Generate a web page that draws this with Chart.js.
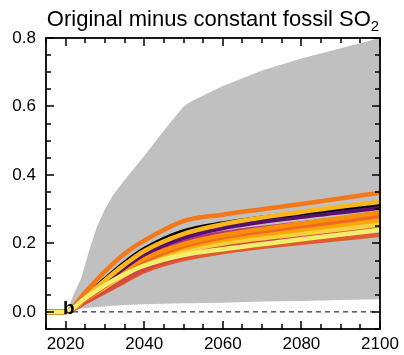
<!DOCTYPE html>
<html>
<head>
<meta charset="utf-8">
<script src="https://cdn.jsdelivr.net/npm/chart.js@4.4.0/dist/chart.umd.min.js"></script>
<style>
  html, body { margin: 0; padding: 0; background: #fff; }
  #wrap { width: 404px; height: 355px; }
</style>
</head>
<body>
<div id="wrap"><canvas id="so2Chart"></canvas></div>
<script>
// x / y tick labels
const xTicks = [2020, 2040, 2060, 2080, 2100];
const yTicks = [0.0, 0.2, 0.4, 0.6, 0.8];

// grey range (min / max across ensemble)
const bandYears = [2020, 2021, 2022, 2024, 2026, 2028, 2030, 2032, 2035, 2040, 2045, 2050, 2052, 2060, 2070, 2080, 2090, 2100];
const bandUpper = [0.0, 0.02, 0.05, 0.10, 0.18, 0.25, 0.30, 0.34, 0.385, 0.455, 0.53, 0.60, 0.615, 0.66, 0.705, 0.74, 0.77, 0.80];
const bandLower = [0.0, 0.004, 0.007, 0.010, 0.012, 0.014, 0.016, 0.018, 0.020, 0.022, 0.024, 0.025, 0.025, 0.027, 0.030, 0.032, 0.035, 0.037];

// individual model lines
const years = [2015, 2020, 2025, 2030, 2035, 2040, 2050, 2060, 2080, 2100];
const lineLightYellow = [0, 0, 0.040, 0.078, 0.110, 0.135, 0.166, 0.183, 0.212, 0.240];
const lineOrangeTop   = [0, 0, 0.058, 0.118, 0.170, 0.208, 0.265, 0.284, 0.315, 0.348];
const lineYellowOr    = [0, 0, 0.045, 0.092, 0.138, 0.178, 0.228, 0.256, 0.292, 0.322];
const lineBlack       = [0, 0, 0.045, 0.095, 0.143, 0.183, 0.235, 0.258, 0.289, 0.316];
const linePurple      = [0, 0, 0.042, 0.087, 0.130, 0.168, 0.217, 0.245, 0.278, 0.304];
const lineMagenta     = [0, 0, 0.038, 0.080, 0.122, 0.158, 0.206, 0.230, 0.258, 0.284];
const lineOrange      = [0, 0, 0.040, 0.082, 0.122, 0.156, 0.198, 0.224, 0.258, 0.290];
const lineRedOrange   = [0, 0, 0.035, 0.075, 0.113, 0.148, 0.192, 0.218, 0.250, 0.280];
const lineAmber       = [0, 0, 0.037, 0.076, 0.113, 0.146, 0.186, 0.210, 0.240, 0.268];
const lineYellow      = [0, 0, 0.035, 0.072, 0.108, 0.140, 0.178, 0.200, 0.228, 0.255];
const lineCrimson     = [0, 0, 0.030, 0.062, 0.094, 0.124, 0.162, 0.188, 0.220, 0.250];
const lineBottom      = [0, 0, 0.028, 0.058, 0.089, 0.119, 0.154, 0.175, 0.202, 0.225];

const zeroYears = [2015, 2100];
const zeroVals = [0, 0];

const FONT = '"Liberation Sans", Arial, Helvetica, sans-serif';

function pts(xs, ys) {
    return xs.map((x, i) => ({ x: x, y: ys[i] }));
}

function modelLine(vals, color, order) {
    return {
        data: pts(years, vals),
        borderColor: color,
        borderWidth: 4.5,
        pointRadius: 0,
        fill: false,
        cubicInterpolationMode: 'monotone',
        borderCapStyle: 'butt',
        order: order
    };
}

// frame, inward ticks, title and panel letter
const framePlugin = {
    id: 'frame',
    afterDraw(chart) {
        const ctx = chart.ctx;
        const a = chart.chartArea;
        const xs = chart.scales.x;
        const ys = chart.scales.y;
        ctx.save();
        ctx.setLineDash([]);
        ctx.globalAlpha = 1;
        ctx.lineCap = 'butt';
        ctx.strokeStyle = '#000000';
        ctx.lineWidth = 1.5;
        ctx.beginPath();
        // x ticks every 5 years, major every 20
        for (let yr = 2015; yr <= 2100; yr += 5) {
            const px = Math.round(xs.getPixelForValue(yr));
            const len = (yr % 20 === 0) ? 8 : 5;
            ctx.moveTo(px, a.bottom);
            ctx.lineTo(px, a.bottom - len);
            ctx.moveTo(px, a.top);
            ctx.lineTo(px, a.top + len);
        }
        // y ticks every 0.05, major every 0.2
        for (let k = -1; k <= 16; k++) {
            const py = Math.round(ys.getPixelForValue(k * 0.05));
            const len = (k % 4 === 0) ? 8 : 5;
            ctx.moveTo(a.left, py);
            ctx.lineTo(a.left + len, py);
            ctx.moveTo(a.right, py);
            ctx.lineTo(a.right - len, py);
        }
        ctx.stroke();
        ctx.lineWidth = 1.8;
        ctx.strokeRect(a.left, a.top, a.right - a.left, a.bottom - a.top);

        // title with subscript
        const main = 'Original minus constant fossil SO';
        ctx.fillStyle = '#000';
        ctx.textBaseline = 'alphabetic';
        ctx.textAlign = 'left';
        ctx.font = '22px ' + FONT;
        const w1 = ctx.measureText(main).width;
        ctx.font = '15px ' + FONT;
        const w2 = ctx.measureText('2').width;
        const cx = (a.left + a.right) / 2;
        const x0 = cx - (w1 + w2) / 2;
        ctx.font = '22px ' + FONT;
        ctx.fillText(main, x0, 26);
        ctx.font = '15px ' + FONT;
        ctx.fillText('2', x0 + w1, 31);

        // panel letter
        ctx.font = 'bold 19px ' + FONT;
        ctx.fillText('b', 63, 314);
        ctx.restore();
    }
};

new Chart(document.getElementById('so2Chart'), {
    type: 'line',
    data: {
        datasets: [
            { data: pts(zeroYears, zeroVals), borderColor: '#000', borderWidth: 1, borderDash: [5, 4], pointRadius: 0, fill: false, order: 50 },
            { data: pts(bandYears, bandLower), borderWidth: 0, borderColor: 'rgba(0,0,0,0)', pointRadius: 0, fill: false, order: 60 },
            { data: pts(bandYears, bandUpper), borderWidth: 0, borderColor: 'rgba(0,0,0,0)', backgroundColor: '#c0c0c0', pointRadius: 0, fill: '-1', order: 61 },
            modelLine(lineBottom, '#e15b30', 12),
            modelLine(lineMagenta, '#b5367a', 11),
            modelLine(lineCrimson, '#d44842', 10),
            modelLine(lineYellow, '#f7d13d', 9),
            modelLine(lineAmber, '#fca50a', 8),
            modelLine(lineRedOrange, '#ed6925', 7),
            modelLine(lineOrange, '#f98e09', 6),
            modelLine(linePurple, '#57106e', 5),
            modelLine(lineBlack, '#000004', 4),
            modelLine(lineYellowOr, '#fbb61a', 3),
            modelLine(lineOrangeTop, '#f37819', 2),
            modelLine(lineLightYellow, '#f3ef6e', 1)
        ]
    },
    options: {
        responsive: true,
        maintainAspectRatio: false,
        animation: false,
        layout: { padding: { top: 38, right: 24, left: 0, bottom: 0 } },
        plugins: {
            legend: { display: false },
            tooltip: { enabled: false },
            filler: { drawTime: 'beforeDatasetsDraw' }
        },
        scales: {
            x: {
                type: 'linear',
                min: 2015,
                max: 2100,
                grid: { display: false, drawTicks: false },
                border: { display: false },
                afterBuildTicks: s => { s.ticks = xTicks.map(v => ({ value: v })); },
                afterFit: s => { s.height = 26; },
                ticks: {
                    font: { family: FONT, size: 17 },
                    color: '#000',
                    padding: 5,
                    maxRotation: 0,
                    callback: v => String(v)
                }
            },
            y: {
                min: -0.05,
                max: 0.8,
                grid: { display: false, drawTicks: false },
                border: { display: false },
                afterBuildTicks: s => { s.ticks = yTicks.map(v => ({ value: v })); },
                afterFit: s => { s.width = 46; },
                ticks: {
                    font: { family: FONT, size: 17 },
                    color: '#000',
                    padding: 10,
                    callback: v => v.toFixed(1)
                }
            }
        }
    },
    plugins: [framePlugin]
});
</script>
</body>
</html>
